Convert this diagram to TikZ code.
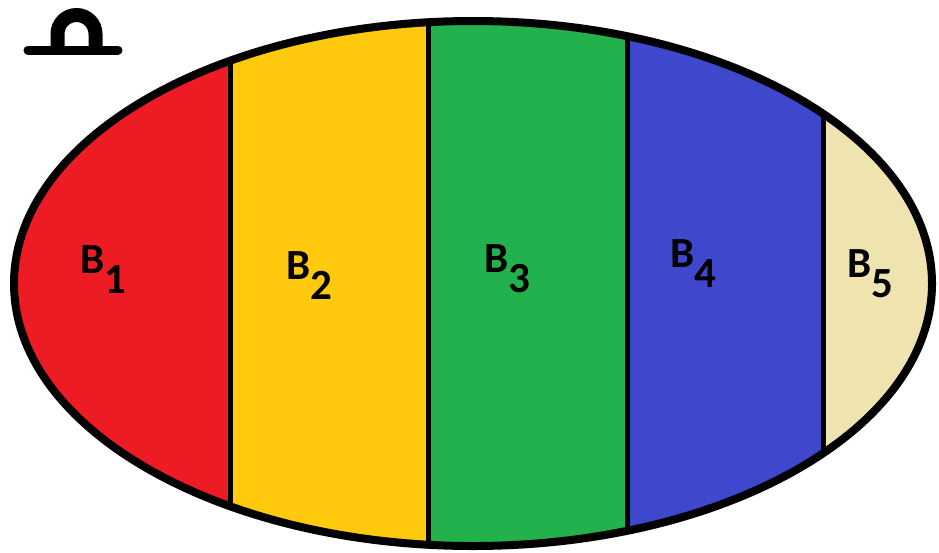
\documentclass[tikz,border=0pt]{standalone}
\usepackage{fontspec}
\setmainfont{Carlito}
\usepackage{tikz}

\definecolor{bred}{HTML}{ED1C24}
\definecolor{byellow}{HTML}{FFC90E}
\definecolor{bgreen}{HTML}{22B14C}
\definecolor{bblue}{HTML}{3F48CC}
\definecolor{bbeige}{HTML}{EFE4B0}

\newcommand{\blabel}[1]{B\raisebox{-0.48em}{#1}}

\begin{document}
\begin{tikzpicture}[x=1pt,y=-1pt,
  border/.style={draw=black,line width=8pt},
  divider/.style={draw=black,line width=5pt},
  lab/.style={font=\fontsize{43}{43}\selectfont\bfseries,inner sep=0pt,anchor=base west},
  omega/.style={draw=black,line width=9pt,line cap=round}]
\useasboundingbox (0,0) rectangle (939,552);
% the set and its parts
\begin{scope}
  \clip (473,283.5) ellipse [x radius=459,y radius=262.5];
  \fill[bred] (0,0) rectangle (230.5,552);
  \fill[byellow] (230.5,0) rectangle (428,552);
  \fill[bgreen] (428,0) rectangle (627,552);
  \fill[bblue] (627,0) rectangle (823.5,552);
  \fill[bbeige] (823.5,0) rectangle (939,552);
  \foreach \xd in {230.5,428,627,823.5}
    \draw[divider] (\xd,0) -- (\xd,552);
\end{scope}
\draw[border] (473,283.5) ellipse [x radius=459,y radius=262.5];
% sample space symbol
\draw[omega] (28,50) -- (118,50);
\draw[omega,line width=14pt,line cap=butt] (57.5,51) -- (57.5,34)
  arc[start angle=180,end angle=360,radius=19] -- (95.5,51);
% labels
\node[lab] (b1) at (80,273) {\blabel{1}};
\node[lab] (b2) at (286,279) {\blabel{2}};
\node[lab] (b3) at (484,272) {\blabel{3}};
\node[lab] (b4) at (670,267) {\blabel{4}};
\node[lab] (b5) at (847,277) {\blabel{5}};
\end{tikzpicture}
\end{document}
